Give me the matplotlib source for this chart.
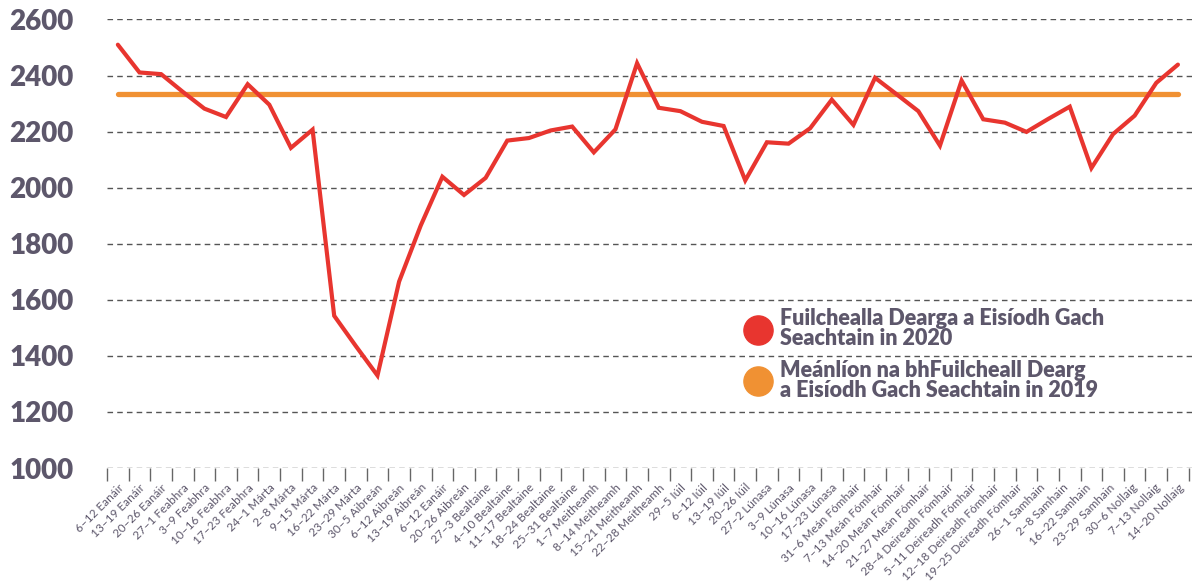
import numpy as np
import matplotlib
matplotlib.use("Agg")
import matplotlib.pyplot as plt
from matplotlib.lines import Line2D

plt.rcParams['font.family'] = ['Lato', 'DejaVu Sans']

weeks = [
    "6–12 Eanáir", "13–19 Eanáir", "20–26 Eanáir", "27–1 Feabhra", "3–9 Feabhra",
    "10–16 Feabhra", "17–23 Feabhra", "24–1 Márta", "2–8 Márta", "9–15 Márta",
    "16–22 Márta", "23–29 Márta", "30–5 Aibreán", "6–12 Aibreán", "13–19 Aibreán",
    "6–12 Eanáir", "20–26 Aibreán", "27–3 Bealtaine", "4–10 Bealtaine", "11–17 Bealtaine",
    "18–24 Bealtaine", "25–31 Bealtaine", "1–7 Meitheamh", "8–14 Meitheamh", "15–21 Meitheamh",
    "22–28 Meitheamh", "29–5 Iúil", "6–12 Iúil", "13–19 Iúil", "20–26 Iúil",
    "27–2 Lúnasa", "3–9 Lúnasa", "10–16 Lúnasa", "17–23 Lúnasa", "31–6 Meán Fómhair",
    "7–13 Meán Fómhair", "14–20 Meán Fómhair", "21–27 Meán Fómhair", "28–4 Deireadh Fómhair",
    "5–11 Deireadh Fómhair", "12–18 Deireadh Fómhair", "19–25 Deireadh Fómhair",
    "26–1 Samhain", "2–8 Samhain", "16–22 Samhain", "23–29 Samhain",
    "30–6 Nollaig", "7–13 Nollaig", "14–20 Nollaig",
]

issued_2020 = [
    2510, 2411, 2405, 2342, 2282, 2252, 2369, 2296, 2142, 2207,
    1543, 1435, 1330, 1665, 1865, 2039, 1974, 2035, 2168, 2177,
    2204, 2218, 2126, 2208, 2444, 2285, 2273, 2235, 2220, 2026,
    2162, 2157, 2212, 2314, 2224, 2392, 2333, 2273, 2150, 2382,
    2244, 2232, 2199, 2245, 2289, 2070, 2191, 2257, 2374, 2439,
]
avg_2019 = 2335

yticks = [1000, 1200, 1400, 1600, 1800, 2000, 2200, 2400, 2600]
legend_labels = [
    "Fuilchealla Dearga a Eisíodh Gach\nSeachtain in 2020",
    "Meánlíon na bhFuilcheall Dearg\na Eisíodh Gach Seachtain in 2019",
]

RED = "#e8352f"
ORANGE = "#f09133"
TXT = "#5d576b"

n = len(issued_2020)
x = np.arange(n)

fig = plt.figure(figsize=(11.92, 5.85), dpi=100)
ax = fig.add_axes([0.0898, 0.2, 1 - 0.0898, 0.7667])

ax.plot(x, np.full(n, avg_2019), color=ORANGE, lw=3.8, solid_capstyle='round', zorder=2)
ax.plot(x, issued_2020, color=RED, lw=3.0, solid_capstyle='round',
        solid_joinstyle='miter', zorder=3)

ax.set_ylim(1000, 2600)
ax.set_xlim(-0.5, 49.65)
ax.set_yticks(yticks)
ax.set_yticklabels([str(v) for v in yticks], fontsize=20, fontweight='heavy', color=TXT)
ax.tick_params(axis='y', length=0, pad=24)
ax.yaxis.grid(True, linestyle=(0, (4, 3)), color='#555555', lw=1)
ax.set_axisbelow(True)
for s in ax.spines.values():
    s.set_visible(False)

# labels: 49 names spread over the 50 weekly points
label_pos = np.concatenate([np.arange(34), np.linspace(33, n - 1, len(weeks) - 33)[1:]])
ax.set_xticks(label_pos)
ax.set_xticklabels(weeks, rotation=45, ha='right', va='top', rotation_mode='anchor',
                   fontsize=8.5, color=TXT)
ax.tick_params(axis='x', which='major', length=0, pad=10)
ax.set_xticks(np.arange(n + 1) - 0.5, minor=True)
ax.tick_params(axis='x', which='minor', length=9, width=1, color='#666666')

handles = [Line2D([], [], marker='o', ls='', color=RED, markersize=21),
           Line2D([], [], marker='o', ls='', color=ORANGE, markersize=21)]
leg = ax.legend(handles, legend_labels, loc='upper left', bbox_to_anchor=(0.57, 0.4),
                frameon=False, handletextpad=0.45, labelspacing=0.5,
                prop={'size': 15.5}, handlelength=1.2)
for t in leg.get_texts():
    t.set_color(TXT)
    t.set_fontweight('heavy')
    t.set_linespacing(0.95)

fig.savefig("out.png", dpi=100, facecolor='white')
